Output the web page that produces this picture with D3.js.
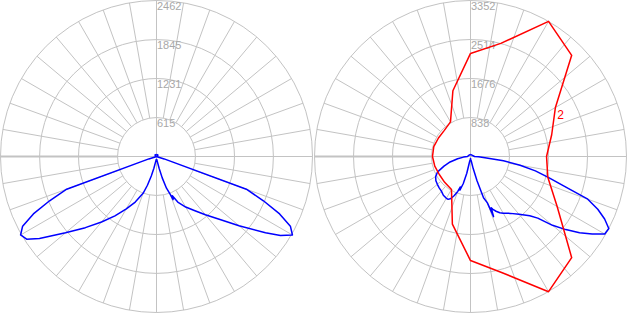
<!DOCTYPE html>
<html>
<head>
<meta charset="utf-8">
<script src="https://cdn.jsdelivr.net/npm/d3@7"></script>
<style>
  body { margin: 0; background: #fff; }
  svg { display: block; }
</style>
</head>
<body>
<script>
// gamma angles in degrees from nadir, negative = left half
const leftAngles = [-180, -135, -90, -85, -80, -75, -72.5, -70, -67.5, -65, -62.5, -60, -57.5, -55, -50, -45, -40, -35, -30, -25, -20, -17.5, -15, -12.5, -10, -5,
  0, 5, 10, 12.5, 15, 17.5, 20, 21, 22, 25, 30, 35, 40, 45, 50, 55, 57.5, 60, 62.5, 65, 67.5, 70, 72.5, 75, 80, 85, 90, 135, 180];
const leftC0 = [32, 32, 10, 10, 10, 10, 127, 1509, 1826, 2144, 2382, 2477, 2430, 2255, 1874, 1588, 1350, 1143, 953, 794, 619, 476, 318, 191, 95, 48,
  48, 48, 95, 191, 349, 524, 635, 730, 667, 794, 921, 1040, 1200, 1400, 1700, 2100, 2320, 2477, 2382, 2144, 1826, 1509, 127, 10, 10, 10, 10, 32, 32];

const rightAngles = [-180, -135, -90, -85, -80, -75, -70, -65, -60, -55, -50, -45, -40, -35, -30, -27.5, -25, -22.5, -20, -18.5, -17.5, -15, -12.5, -10, -5,
  0, 5, 10, 12.5, 15, 17.5, 20, 21, 22, 23, 25, 27.5, 30, 35, 40, 45, 47.5, 50, 52.5, 55, 57.5, 60, 62.5, 65, 67.5, 70, 72.5, 75, 77.5, 80, 82.5, 85, 87.5, 90, 135, 180];
const rightC0 = [43, 43, 65, 151, 281, 454, 606, 779, 865, 908, 930, 952, 973, 1017, 1038, 1038, 995, 908, 800, 690, 757, 606, 368, 108, 65,
  43, 65, 108, 260, 541, 930, 1060, 1384, 1190, 1233, 1298, 1363, 1406, 1492, 1622, 1800, 1960, 2300, 2580, 2860, 3100, 3330, 3350, 3180, 2960, 2682, 2098, 1730, 1428, 1082, 714, 346, 173, 87, 43, 43];

const redAngles = [-180, -165, -150, -135, -120, -105, -90, -75, -60, -45, -30, -15, 0, 15, 30, 45, 60, 75, 90, 105, 120, 135, 150, 165, 180];
const rightC90 = [2215, 1462, 860, 795, 795, 817, 817, 795, 774, 785, 817, 1505, 2236, 2580, 3354, 3075, 2150, 1720, 1634, 1806, 2107, 3075, 3354, 2516, 2215];

const leftTicks = [615, 1231, 1845, 2462];
const rightTicks = [838, 1676, 2514, 3352];

width = 630
height = 313
R = 156

svg = d3.select("body").append("svg")
  .attr("width", width)
  .attr("height", height)
  .attr("viewBox", [0, 0, width, height]);

const rad = a => (180 - a) * Math.PI / 180;

function polar(cx, cy, ticks, series) {
  const r = d3.scaleLinear().domain([0, d3.max(ticks)]).range([0, R]);
  const g = svg.append("g").attr("transform", `translate(${cx},${cy})`);
  const r0 = r(ticks[0]);

  const grid = g.append("g").attr("stroke", "#c3c3c3").attr("fill", "none");
  grid.selectAll("line.spoke")
    .data(d3.range(0, 360, 10))
    .join("line")
    .attr("class", "spoke")
    .attr("x1", d => r0 * Math.sin(d * Math.PI / 180))
    .attr("y1", d => -r0 * Math.cos(d * Math.PI / 180))
    .attr("x2", d => R * Math.sin(d * Math.PI / 180))
    .attr("y2", d => -R * Math.cos(d * Math.PI / 180));
  grid.append("line").attr("x1", -R).attr("x2", R).attr("y1", 0).attr("y2", 0);
  grid.append("line").attr("y1", -R).attr("y2", R).attr("x1", 0).attr("x2", 0);
  grid.append("line").attr("x1", -R).attr("x2", -r0).attr("y1", 0).attr("y2", 0)
    .attr("stroke-width", 2);
  grid.selectAll("circle")
    .data(ticks)
    .join("circle")
    .attr("r", d => r(d));

  g.append("g")
    .attr("font-family", "'Liberation Sans', Arial, sans-serif")
    .attr("font-size", 11)
    .attr("fill", "#a8a8a8")
    .selectAll("text")
    .data(ticks)
    .join("text")
    .attr("x", 0.5)
    .attr("y", d => -r(d) + 9.5)
    .text(d => d);

  series.forEach(s => {
    const pts = s.angles.map((a, i) => [a, s.values[i]]);
    const line = d3.lineRadial()
      .angle(d => rad(d[0]))
      .radius(d => r(d[1]));
    g.append("path")
      .datum(pts)
      .attr("fill", "none")
      .attr("stroke", s.color)
      .attr("stroke-width", 1.5)
      .attr("stroke-linejoin", "round")
      .attr("d", line);
    if (s.label) {
      const a = s.label.at;
      const v = d3.interpolateNumber(s.values[s.angles.indexOf(105)], s.values[s.angles.indexOf(120)])((a - 105) / 15);
      g.append("text")
        .attr("x", r(v) * Math.sin(a * Math.PI / 180) + 2)
        .attr("y", r(v) * Math.cos(a * Math.PI / 180) + 4)
        .attr("font-family", "'Liberation Sans', Arial, sans-serif")
        .attr("font-size", 12)
        .attr("fill", s.color)
        .text(s.label.text);
    }
  });
}

polar(156.5, 156.5, leftTicks, [
  {angles: leftAngles, values: leftC0, color: "#0000ff"}
]);
polar(470.5, 156.5, rightTicks, [
  {angles: rightAngles, values: rightC0, color: "#0000ff"},
  {angles: redAngles, values: rightC90, color: "#ff0000", label: {text: "2", at: 116}}
]);
</script>
</body>
</html>
